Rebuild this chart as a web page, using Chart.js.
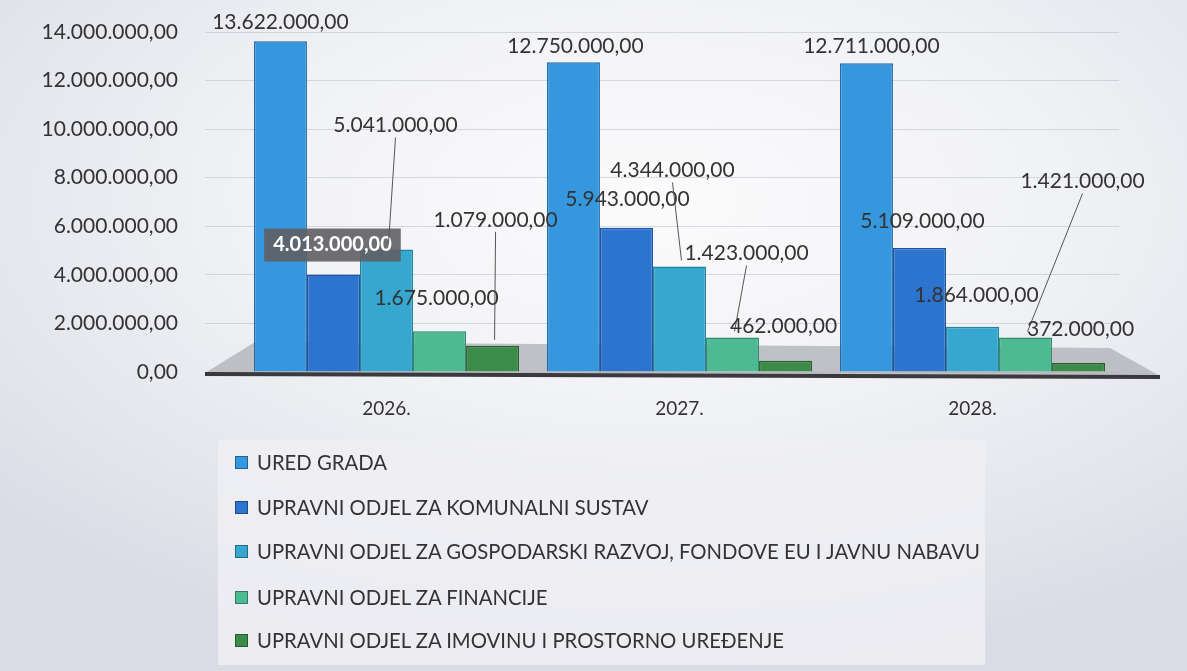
<!DOCTYPE html>
<html>
<head>
<meta charset="utf-8">
<script src="https://cdn.jsdelivr.net/npm/chart.js@4"></script>
<style>
  html, body { margin:0; padding:0; }
  body {
    width:1187px; height:671px; overflow:hidden; position:relative;
    background: radial-gradient(ellipse 75% 70% at 55% 30%, #fbfbfc 0%, #f1f2f5 45%, #e3e5ec 80%, #d9dce5 100%);
    font-family: Lato, "Open Sans", sans-serif;
  }
  #c { position:absolute; left:0; top:0; }
  #legend {
    position:absolute; left:218px; top:440px; width:767px; height:225px;
    background: rgba(238,239,243,0.85);
  }
  .item { position:absolute; left:17px; height:24px; display:flex; align-items:center;
    color:#333; font-size:20.3px; white-space:nowrap; }
  .sw { width:13px; height:13px; margin-right:9px; box-sizing:border-box; border:1px solid rgba(0,0,0,0.35); }
</style>
</head>
<body>
<canvas id="c" width="1187" height="671"></canvas>
<div id="legend"></div>
<script>
// ---- data ----
const categories = ["2026.", "2027.", "2028."];
const seriesNames = [
  "URED GRADA",
  "UPRAVNI ODJEL ZA KOMUNALNI SUSTAV",
  "UPRAVNI ODJEL ZA GOSPODARSKI RAZVOJ, FONDOVE EU I JAVNU NABAVU",
  "UPRAVNI ODJEL ZA FINANCIJE",
  "UPRAVNI ODJEL ZA IMOVINU I PROSTORNO UREĐENJE"
];
const uredGrada        = [13622000, 12750000, 12711000];
const komunalniSustav  = [4013000, 5943000, 5109000];
const gospodarskiRazvoj= [5041000, 4344000, 1864000];
const financije        = [1675000, 1423000, 1421000];
const imovina          = [1079000, 462000, 372000];
const yTicks = [0, 2000000, 4000000, 6000000, 8000000, 10000000, 12000000, 14000000];

// ---- styles ----
const fills   = ["#3597de", "#2d74cf", "#36a7cf", "#4dba93", "#3b8b49"];
const borders = ["#1e6aaa", "#1e52a0", "#22829f", "#2e8d6a", "#285f32"];
// label placement relative to each bar's top centre: [dx, dy, leader, boxed]
const labelPlacement = [
  [[0,-19,0,0],[2,-16,0,0],[5,-17,0,0]],
  [[-1,-30,0,1],[1,-28,0,0],[3,-27,0,0]],
  [[9,-124,1,0],[-7,-96,1,0],[4,-31,0,0]],
  [[-3,-33,0,0],[14,-84,1,0],[57,-156,1,0]],
  [[3,-126,1,0],[-2,-35,0,0],[2,-34,0,0]]
];
const PLOT_TOP = 32, PLOT_BOTTOM = 372, PLOT_LEFT = 240;

function fmt(v){
  const parts = Math.round(v).toString().replace(/\B(?=(\d{3})+(?!\d))/g, ".");
  return parts + ",00";
}

const seriesData = [uredGrada, komunalniSustav, gospodarskiRazvoj, financije, imovina];

const FONT = "Lato, 'Open Sans', sans-serif";

// pin the plot area's top to where the reference has it
const pinTop = {
  id:'pinTop',
  afterLayout(chart){
    const y = chart.scales.y, a = chart.chartArea;
    y.top = PLOT_TOP; y.height = y.bottom - PLOT_TOP;
    y.configure();
    y._labelItems = null; y._gridLineItems = null;
    a.top = PLOT_TOP; a.height = a.bottom - PLOT_TOP;
  }
};

const floorPlugin = {
  id:'floor',
  beforeDatasetsDraw(chart){
    const ctx = chart.ctx, a = chart.chartArea;
    ctx.save();
    ctx.fillStyle = 'rgba(175,176,182,0.75)';
    ctx.beginPath();
    ctx.moveTo(205, a.bottom+1);
    ctx.lineTo(1160, a.bottom+4);
    ctx.lineTo(1110, a.bottom-24);
    ctx.lineTo(255, a.bottom-30);
    ctx.closePath();
    ctx.fill();
    ctx.strokeStyle = '#3a3a3e';
    ctx.lineWidth = 4;
    ctx.beginPath();
    ctx.moveTo(205, a.bottom+2);
    ctx.lineTo(1160, a.bottom+5);
    ctx.stroke();
    ctx.restore();
  }
};

const labelPlugin = {
  id:'vals',
  afterDatasetsDraw(chart){
    const ctx = chart.ctx;
    ctx.save();
    chart.data.datasets.forEach((ds, i) => {
      const meta = chart.getDatasetMeta(i);
      meta.data.forEach((el, j) => {
        const [dx, dy, leader, boxed] = labelPlacement[i][j];
        const x = el.x + dx, y = el.y + dy;
        const txt = fmt(ds.data[j]);
        if (leader) {
          ctx.strokeStyle = '#555';
          ctx.lineWidth = 1;
          ctx.beginPath();
          ctx.moveTo(x, y + 12);
          ctx.lineTo(el.x + 2, el.y - 6);
          ctx.stroke();
        }
        ctx.textAlign = 'center';
        ctx.textBaseline = 'middle';
        if (boxed) {
          ctx.font = "bold 20px " + FONT;
          const w = ctx.measureText(txt).width;
          ctx.fillStyle = 'rgba(95,95,100,0.9)';
          ctx.fillRect(x - w/2 - 9, y - 16, w + 18, 33);
          ctx.fillStyle = '#ffffff';
          ctx.fillText(txt, x, y);
        } else {
          ctx.font = "21px " + FONT;
          ctx.fillStyle = '#333';
          ctx.fillText(txt, x, y);
        }
      });
    });
    ctx.restore();
  }
};

new Chart(document.getElementById('c'), {
  type:'bar',
  data:{
    labels: categories,
    datasets: seriesNames.map((n, i) => ({
      label: n,
      data: seriesData[i],
      backgroundColor: fills[i],
      borderColor: borders[i],
      borderWidth: 1.5,
      categoryPercentage: 0.905,
      barPercentage: 1.0
    }))
  },
  options:{
    responsive:false,
    devicePixelRatio:1,
    animation:false,
    layout:{ padding:{ top:20, right:68, bottom:0, left:0 } },
    plugins:{ legend:{ display:false }, tooltip:{ enabled:false } },
    scales:{
      x:{
        grid:{ display:false, drawTicks:false },
        border:{ display:false },
        ticks:{ color:'#333', font:{ family:FONT, size:19 }, padding:25 },
        afterFit(s){ s.height = 671 - PLOT_BOTTOM; }
      },
      y:{
        min:0, max:14000000,
        afterBuildTicks(s){ s.ticks = yTicks.map(v => ({ value:v })); },
        grid:{ color:'rgba(175,178,190,0.45)', tickLength:35, lineWidth:1 },
        border:{ display:false },
        ticks:{ color:'#333', font:{ family:FONT, size:21 }, padding:27, callback:(v)=>fmt(v) },
        afterFit(s){ s.width = PLOT_LEFT; }
      }
    }
  },
  plugins:[pinTop, floorPlugin, labelPlugin]
});

// legend (HTML)
const lg = document.getElementById('legend');
const tops = [22, 67, 111, 157, 200];
seriesNames.forEach((n, i) => {
  const d = document.createElement('div');
  d.className = 'item';
  d.style.top = (tops[i] - 12) + 'px';
  d.innerHTML = '<span class="sw" style="background:' + fills[i] + '"></span><span>' + n + '</span>';
  lg.appendChild(d);
});
</script>
</body>
</html>
